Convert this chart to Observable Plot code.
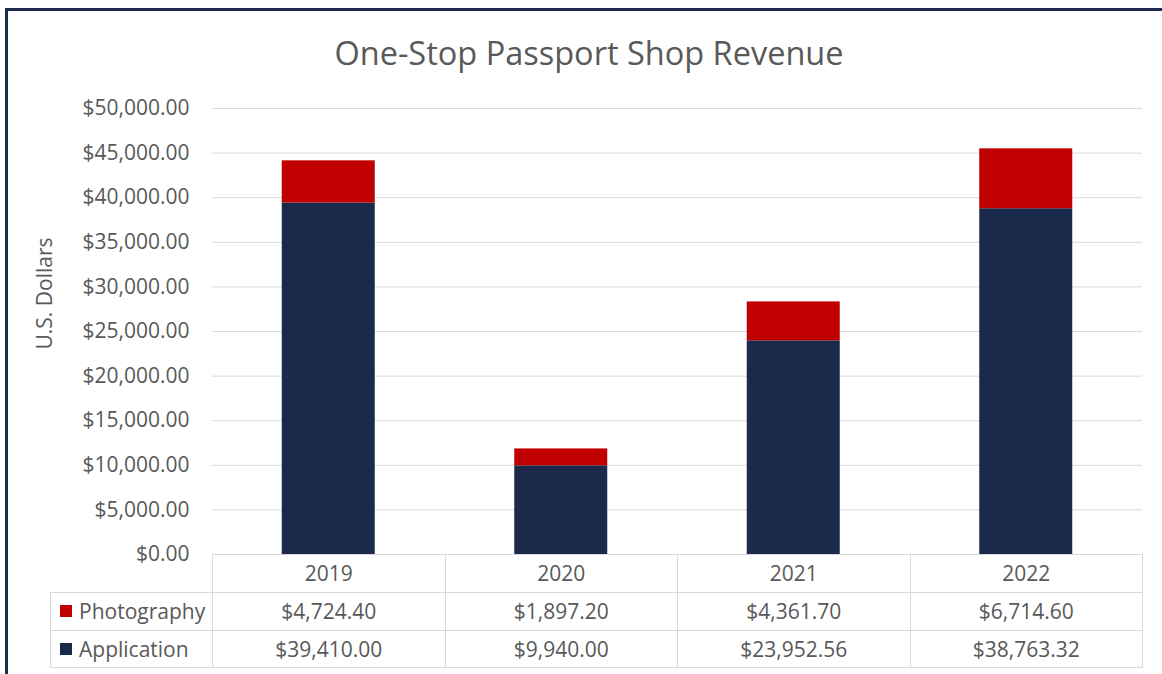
<!DOCTYPE html>
<html><head><meta charset="utf-8">
<script src="https://cdn.jsdelivr.net/npm/d3@7"></script>
<script src="https://cdn.jsdelivr.net/npm/@observablehq/plot@0.6"></script>
<style>
body{margin:0;background:#fff;font-family:"Open Sans",sans-serif;}
#wrap{position:relative;width:1162px;height:674px;overflow:hidden;background:#fff}
#frame{position:absolute;left:5px;top:8px;width:2000px;height:2000px;box-sizing:border-box;border-left:3px solid #1c2b4b;border-top:3px solid #1c2b4b;}
#title{position:absolute;left:5px;width:1168px;top:30px;text-align:center;font-size:32.5px;color:#595959;white-space:nowrap;}
#chart{position:absolute;left:0;top:0}
.cell{position:absolute;box-sizing:border-box;border:1px solid #d9d9d9;color:#595959;font-size:21px;text-align:center;white-space:nowrap;}
.sw{display:inline-block;width:12px;height:12px;margin-right:7px;vertical-align:middle;position:relative;top:-2px}
</style></head>
<body>
<div id="wrap">
  <div id="frame"></div>
  <div id="title">One-Stop Passport Shop Revenue</div>
  <div id="chart"></div>
</div>
<script>
const years = ["2019", "2020", "2021", "2022"];
const application = [39410.00, 9940.00, 23952.56, 38763.32];
const photography = [4724.40, 1897.20, 4361.70, 6714.60];
const seriesOrder = ["Application", "Photography"];
const tableRows = ["Photography", "Application"];
const seriesColors = ["#1b2a4b", "#c00000"];
const yTicks = [0, 5000, 10000, 15000, 20000, 25000, 30000, 35000, 40000, 45000, 50000];
const yLabel = "U.S. Dollars";

const seriesValues = {Application: application, Photography: photography};
const data = years.flatMap((yr, i) => seriesOrder.map(s => ({year: yr, series: s, value: seriesValues[s][i]})));
const fmt = d3.format("$,.2f");

const chart = Plot.plot({
  width: 1162, height: 674,
  marginTop: 108, marginBottom: 120, marginLeft: 212, marginRight: 20,
  style: {fontFamily: "'Open Sans', sans-serif", color: "#595959", background: "transparent"},
  x: {domain: years, paddingInner: 0.6, paddingOuter: 0.3, round: false, axis: null},
  y: {domain: [0, 50000]},
  color: {domain: seriesOrder, range: seriesColors},
  marks: [
    Plot.gridY(yTicks, {stroke: "#d9d9d9", strokeOpacity: 1}),
    Plot.barY(data, {x: "year", y: "value", fill: "series"}),
    Plot.axisY(yTicks, {tickFormat: fmt, tickSize: 0, tickPadding: 23, fontSize: 21, label: null}),
    Plot.text([yLabel], {frameAnchor: "left", textAnchor: "middle", dx: -167, dy: -38, rotate: -90, fontSize: 21, fill: "#595959"})
  ]
});
document.getElementById("chart").appendChild(chart);

// data table under the chart, aligned with the x band scale
const xs = chart.scale("x"), ys = chart.scale("y");
const top0 = ys.apply(0);
const rowH = [38, 38, 37];
const rowTop = [top0, top0 + rowH[0], top0 + rowH[0] + rowH[1]];
const labelLeft = 50, plotLeft = 212;
const wrap = document.getElementById("wrap");
function cell(left, top, w, h, html, align) {
  const d = document.createElement("div");
  d.className = "cell";
  Object.assign(d.style, {left: left + "px", top: top + "px", width: w + "px", height: h + "px", lineHeight: (h - 2) + "px"});
  if (align) { d.style.textAlign = align; d.style.paddingLeft = "9px"; }
  d.innerHTML = html;
  wrap.appendChild(d);
}
years.forEach((yr) => {
  const left = xs.apply(yr) + xs.bandwidth / 2 - xs.step / 2;
  cell(left, rowTop[0], xs.step + 1, rowH[0] + 1, yr);
});
tableRows.forEach((s, r) => {
  const color = seriesColors[seriesOrder.indexOf(s)];
  cell(labelLeft, rowTop[r + 1], plotLeft - labelLeft + 1, rowH[r + 1] + 1,
       `<span class="sw" style="background:${color}"></span>${s}`, "left");
  years.forEach((yr, i) => {
    const left = xs.apply(yr) + xs.bandwidth / 2 - xs.step / 2;
    cell(left, rowTop[r + 1], xs.step + 1, rowH[r + 1] + 1, fmt(seriesValues[s][i]));
  });
});
</script>
</body></html>
